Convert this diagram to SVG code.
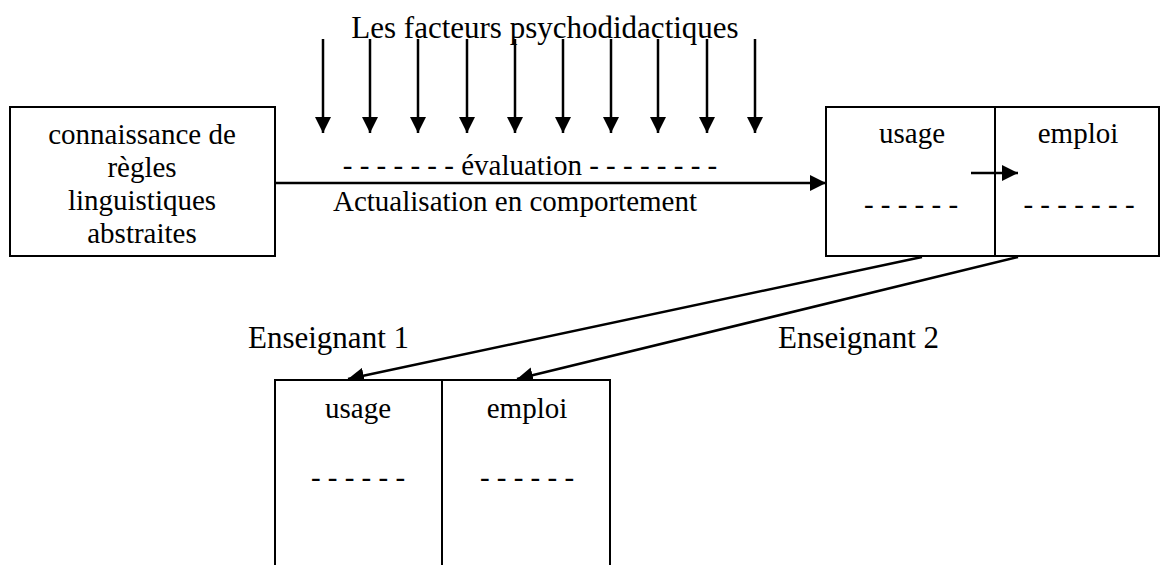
<svg xmlns="http://www.w3.org/2000/svg" width="1161" height="565" viewBox="0 0 1161 565">
<style>
text{font-family:"Liberation Serif","Times New Roman",serif;font-size:29px;fill:#000}
.c{text-anchor:middle}
.box{fill:#fff;stroke:#000;stroke-width:2}
.ln{stroke:#000;stroke-width:2.5;fill:none}
</style>
<defs>
<marker id="ah" viewBox="0 0 16 16" refX="16" refY="8" markerWidth="16" markerHeight="16" markerUnits="userSpaceOnUse" orient="auto">
<path d="M0,0 L16,8 L0,16 Z" fill="#000"/>
</marker>
</defs>
<rect width="1161" height="565" fill="#fff"/>
<text id="title" class="c" x="545" y="38" style="font-size:31px">Les facteurs psychodidactiques</text>
<g id="connectors">
<line class="ln" x1="323" y1="39" x2="323" y2="133" marker-end="url(#ah)"/>
<line class="ln" x1="370" y1="39" x2="370" y2="133" marker-end="url(#ah)"/>
<line class="ln" x1="418" y1="39" x2="418" y2="133" marker-end="url(#ah)"/>
<line class="ln" x1="467" y1="39" x2="467" y2="133" marker-end="url(#ah)"/>
<line class="ln" x1="515" y1="39" x2="515" y2="133" marker-end="url(#ah)"/>
<line class="ln" x1="563" y1="39" x2="563" y2="133" marker-end="url(#ah)"/>
<line class="ln" x1="611" y1="39" x2="611" y2="133" marker-end="url(#ah)"/>
<line class="ln" x1="658" y1="39" x2="658" y2="133" marker-end="url(#ah)"/>
<line class="ln" x1="707" y1="39" x2="707" y2="133" marker-end="url(#ah)"/>
<line class="ln" x1="755" y1="39" x2="755" y2="133" marker-end="url(#ah)"/>
<line class="ln" x1="275" y1="183" x2="826" y2="183" marker-end="url(#ah)"/>
<line class="ln" x1="922" y1="257" x2="348" y2="379" marker-end="url(#ah)"/>
<line class="ln" x1="1018" y1="257" x2="517" y2="379" marker-end="url(#ah)"/>
</g>
<text class="c" x="530" y="175">- - - - - - - évaluation - - - - - - - -</text>
<text class="c" x="515" y="211">Actualisation en comportement</text>
<g id="node-connaissance">
<rect class="box" x="10" y="107" width="265" height="149"/>
<text class="c" x="142" y="144">connaissance de</text>
<text class="c" x="142" y="177">règles</text>
<text class="c" x="142" y="210">linguistiques</text>
<text class="c" x="142" y="243">abstraites</text>
</g>
<g id="node-usage-emploi-top">
<rect class="box" x="826" y="107" width="333" height="149"/>
<line class="ln" x1="995" y1="107" x2="995" y2="256" style="stroke-width:2"/>
<text class="c" x="912" y="143">usage</text>
<text class="c" x="1078" y="143">emploi</text>
<text class="c" x="911" y="214">- - - - - -</text>
<text class="c" x="1079" y="214">- - - - - - -</text>
<line class="ln" x1="971" y1="173" x2="1018" y2="173" marker-end="url(#ah)"/>
</g>
<text id="label-ens1" x="248" y="348" style="font-size:31px">Enseignant 1</text>
<text id="label-ens2" x="778" y="348" style="font-size:31px">Enseignant 2</text>
<g id="node-usage-emploi-bottom">
<path class="box" d="M275,570 L275,380 L610,380 L610,570"/>
<line class="ln" x1="442" y1="380" x2="442" y2="570" style="stroke-width:2"/>
<text class="c" x="358" y="418">usage</text>
<text class="c" x="527" y="418">emploi</text>
<text class="c" x="358" y="487">- - - - - -</text>
<text class="c" x="527" y="487">- - - - - -</text>
</g>
</svg>
